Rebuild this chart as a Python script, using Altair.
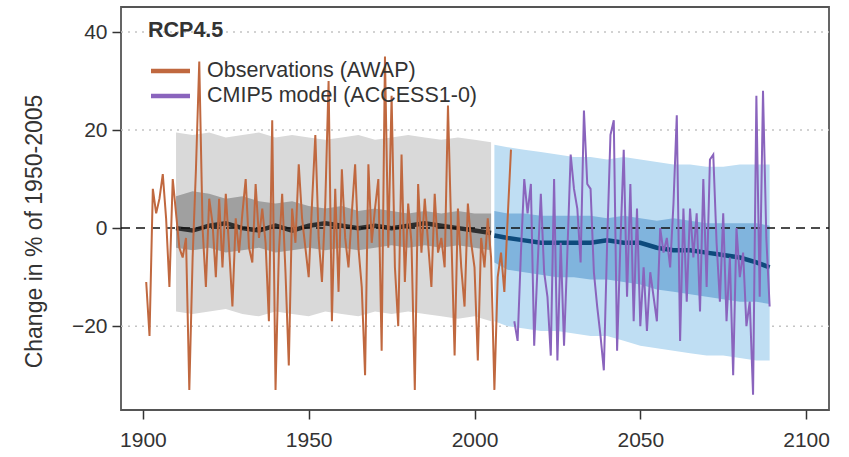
import altair as alt
import pandas as pd

# ---------------- data ----------------
obs_label = "Observations (AWAP)"
model_label = "CMIP5 model (ACCESS1-0)"

obs_years = list(range(1901, 2012))
obs_values = [
    -11, -22, 8, 3, 6, 11, 2, -12, 10, 3,
    -4, -6, -2, -33, -6, 12, 34, 0, -12, 6,
    1, -10, 6, -8, 7, -4, -16, 2, -5, 3,
    10, -4, -7, 9, -2, 4, -3, -19, 22, -33,
    -5, 7, -9, -28, 4, -3, 13, 2, -4, -10,
    5, 19, -2, -11, 5, 30, -19, 8, -13, 12,
    -2, -8, 3, 13, -4, -12, -30, 13, -3, 4,
    10, -25, 35, -4, 27, -8, -20, 15, -11, 5,
    -3, -33, 9, -5, 6, -3, -12, 7, -5, -2,
    -8, 25, -1, -26, 4, -8, -16, 5, -3, -8,
    -27, -2, -8, 2, -6, -33, -10, -5, -13, 2,
    16,
]

model_years = list(range(2012, 2090))
model_values = [
    -19, -23, -5, 10, 3, 9, -24, -8, 7, -9,
    -14, -26, 10, -27, -3, -24, -5, 15, 8, 4,
    -7, 24, 9, 8, -9, -16, -22, -29, -3, 19,
    22, -25, -3, 16, -14, 9, -19, 4, -20, -8,
    -21, -9, -14, -19, 0, -5, -2, -8, 5, 23,
    -23, 4, -15, 4, -6, 3, -17, 10, -12, 14,
    15, -3, -15, 3, -19, -6, -30, 0, -10, -5,
    -20, -15, -34, 27, -14, 28, -2, -16,
]

hist_years = [1910, 1915, 1920, 1925, 1930, 1935, 1940, 1945, 1950, 1955,
              1960, 1965, 1970, 1975, 1980, 1985, 1990, 1995, 2000, 2005]
hist_hi_outer = [19.5, 19, 19.5, 18.5, 19, 19.5, 18.5, 19, 18.5, 18,
                 18.5, 19, 18, 18.5, 19, 18.5, 18, 18.5, 18, 17.5]
hist_lo_outer = [-17, -17.5, -17, -16.5, -17.5, -18, -17, -17.5, -18, -17,
                 -17.5, -18, -17, -17.5, -17, -17.5, -18, -18.5, -18, -19]
hist_hi_inner = [6.5, 7.5, 7, 6, 6.5, 5.5, 5, 5.5, 4.5, 4,
                 4.5, 3.5, 4, 3.5, 3, 3.5, 3, 3.5, 3, 3]
hist_lo_inner = [-4, -4.5, -4, -5, -4.5, -4, -5, -4.5, -4, -4.5,
                 -4, -4.5, -4, -3.5, -4, -3.5, -4, -3.5, -4, -4.5]
hist_median = [0, -0.5, 0.5, 1, 0, -0.5, 0.5, -0.5, 0.5, 1,
               0.5, 0, 0.5, 0, 0.5, 1, 0.5, 0, -0.5, -1]

proj_years = [2006, 2010, 2015, 2020, 2025, 2030, 2035, 2040, 2045, 2050,
              2055, 2060, 2065, 2070, 2075, 2080, 2085, 2089]
proj_hi_outer = [17, 16.5, 16, 15.5, 15, 14.5, 14.5, 14, 14.5, 14,
                 13.5, 13, 13, 12.5, 12.5, 13, 13, 13]
proj_lo_outer = [-19, -20, -20.5, -21, -21, -21.5, -22, -22, -23, -24,
                 -24.5, -25, -25.5, -26, -26, -26.5, -27, -27]
proj_hi_inner = [3.5, 3, 3, 2.5, 2.5, 2.5, 2.5, 2, 2.5, 2,
                 1.5, 2, 1.5, 1, 1, 1, 1, 0.5]
proj_lo_inner = [-7, -8.5, -9, -9.5, -10, -10, -10.5, -10.5, -11, -11.5,
                 -12.5, -13, -13.5, -14, -14.5, -15, -15, -15.5]
proj_median = [-1.5, -2, -2.5, -3, -3, -3, -3, -2.5, -3, -3,
               -4, -4.5, -4.5, -5, -5.5, -6, -7, -8]

grid_values = [-20, 20, 40]
x_ticks = [1900, 1950, 2000, 2050, 2100]
y_ticks = [-20, 0, 20, 40]

# ---------------- frames ----------------
obs_df = pd.DataFrame({"year": obs_years, "value": obs_values, "series": obs_label})
model_df = pd.DataFrame({"year": model_years, "value": model_values, "series": model_label})
hist_df = pd.DataFrame({"year": hist_years, "hi_o": hist_hi_outer, "lo_o": hist_lo_outer,
                        "hi_i": hist_hi_inner, "lo_i": hist_lo_inner, "med": hist_median})
proj_df = pd.DataFrame({"year": proj_years, "hi_o": proj_hi_outer, "lo_o": proj_lo_outer,
                        "hi_i": proj_hi_inner, "lo_i": proj_lo_inner, "med": proj_median})
grid_df = pd.DataFrame({"v": grid_values})
zero_df = pd.DataFrame({"v": [0]})

FONT = "Liberation Sans"
TXT = "#333333"
ORANGE = "#c0683f"
PURPLE = "#8a64bd"

xscale = alt.Scale(domain=[1893.4, 2106.9], nice=False, zero=False)
yscale = alt.Scale(domain=[-37.1, 45.1], nice=False, zero=False)
xaxis = alt.Axis(values=x_ticks, format="d", title=None, labelPadding=10)
yaxis = alt.Axis(values=y_ticks, title="Change in % of 1950-2005", labelPadding=5,
                 titlePadding=25, titleFontSize=23, titleFontWeight="normal",
                 titleColor=TXT, titleFont=FONT, titleY=224, titleAlign="center")


def X(f):
    return alt.X(f, type="quantitative", scale=xscale, axis=xaxis)


def Y(f):
    return alt.Y(f, type="quantitative", scale=yscale, axis=yaxis)


grid = alt.Chart(grid_df).mark_rule(color="#c4c4c4", strokeDash=[2, 5], strokeWidth=1.5).encode(
    y=Y("v"), x=alt.value(0), x2=alt.value(708))

hist_outer = alt.Chart(hist_df).mark_area(color="#d9d9d9", opacity=1).encode(
    x=X("year"), y=Y("lo_o"), y2="hi_o")
hist_inner = alt.Chart(hist_df).mark_area(color="#a0a0a0", opacity=1).encode(
    x=X("year"), y=Y("lo_i"), y2="hi_i")
proj_outer = alt.Chart(proj_df).mark_area(color="#bfdef3", opacity=1).encode(
    x=X("year"), y=Y("lo_o"), y2="hi_o")
proj_inner = alt.Chart(proj_df).mark_area(color="#80b4dd", opacity=1).encode(
    x=X("year"), y=Y("lo_i"), y2="hi_i")

hist_med = alt.Chart(hist_df).mark_line(color="#2e2e2e", strokeWidth=4.5).encode(
    x=X("year"), y=Y("med"))
proj_med = alt.Chart(proj_df).mark_line(color="#0d4a7c", strokeWidth=4.5).encode(
    x=X("year"), y=Y("med"))

zero = alt.Chart(zero_df).mark_rule(color="#111111", strokeDash=[9, 6], strokeWidth=1.5).encode(
    y=Y("v"), x=alt.value(0), x2=alt.value(708))

obs_line = alt.Chart(obs_df).mark_line(color=ORANGE, strokeWidth=2).encode(
    x=X("year"), y=Y("value"))
model_line = alt.Chart(model_df).mark_line(color=PURPLE, strokeWidth=2).encode(
    x=X("year"), y=Y("value"))

title_txt = alt.Chart(pd.DataFrame({"t": ["RCP4.5"]})).mark_text(
    font=FONT, fontSize=21.5, fontWeight="bold", color=TXT, align="left", baseline="middle"
).encode(text="t:N", x=alt.value(27), y=alt.value(24))

leg1_line = alt.Chart(pd.DataFrame({"s": [obs_label]})).mark_rule(color=ORANGE, strokeWidth=4.5).encode(
    x=alt.value(30), x2=alt.value(69), y=alt.value(64))
leg2_line = alt.Chart(pd.DataFrame({"s": [model_label]})).mark_rule(color=PURPLE, strokeWidth=4.5).encode(
    x=alt.value(30), x2=alt.value(69), y=alt.value(89))
leg1_txt = alt.Chart(pd.DataFrame({"s": [obs_label]})).mark_text(
    font=FONT, fontSize=21.5, color=TXT, align="left", baseline="middle"
).encode(text="s:N", x=alt.value(86), y=alt.value(64))
leg2_txt = alt.Chart(pd.DataFrame({"s": [model_label]})).mark_text(
    font=FONT, fontSize=21.5, color=TXT, align="left", baseline="middle"
).encode(text="s:N", x=alt.value(86), y=alt.value(89))

chart = alt.layer(
    grid, hist_outer, hist_inner, proj_outer, proj_inner, hist_med, proj_med, zero,
    obs_line, model_line, title_txt, leg1_line, leg2_line, leg1_txt, leg2_txt
).properties(
    width=708, height=403,
    autosize=alt.AutoSizeParams(type="none"),
    padding={"left": 121, "top": 7, "right": 20, "bottom": 47},
    background="white",
).configure_axis(
    labelFont=FONT, labelFontSize=21, labelColor=TXT, tickColor="#333333",
    tickSize=9, tickWidth=1.5, domain=False, grid=False,
).configure_view(stroke="#555555", strokeWidth=1.8)

chart.save("out.html", embed_options={"renderer": "svg", "actions": False})
